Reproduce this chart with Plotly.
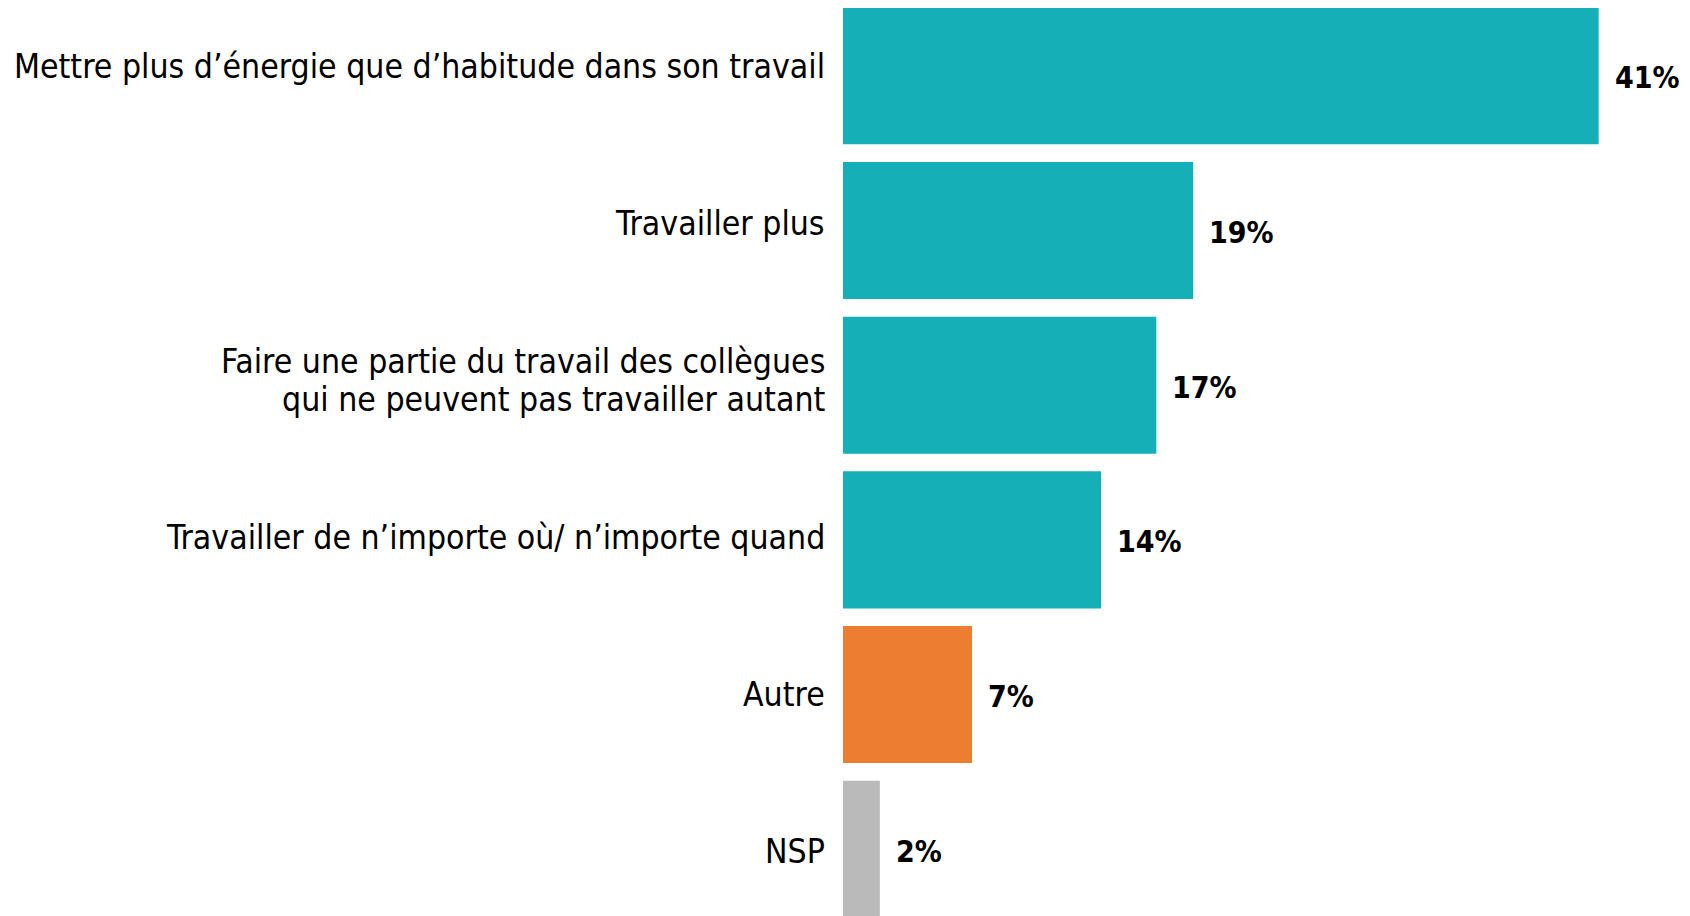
import plotly.graph_objects as go

categories = [
    "Mettre plus d’énergie que d’habitude dans son travail",
    "Travailler plus",
    "Faire une partie du travail des collègues<br>qui ne peuvent pas travailler autant",
    "Travailler de n’importe où/ n’importe quand",
    "Autre",
    "NSP",
]
values = [41, 19, 17, 14, 7, 2]
value_labels = ["41%", "19%", "17%", "14%", "7%", "2%"]
bar_colors = ["#14AFB7", "#14AFB7", "#14AFB7", "#14AFB7", "#ED7D31", "#BABABA"]

positions = list(range(len(categories)))
FONT = "DejaVu Sans Condensed, Liberation Sans Narrow, Liberation Sans"

fig = go.Figure()
fig.add_trace(go.Bar(
    x=values,
    y=positions,
    orientation="h",
    marker=dict(color=bar_colors, line=dict(width=0)),
    width=0.886,
    hoverinfo="skip",
))

# value labels
for v, p, t in zip(values, positions, value_labels):
    fig.add_annotation(
        x=v, y=p, xref="x", yref="y", text=t, showarrow=False,
        xanchor="left", yanchor="middle", xshift=14, yshift=-2,
        font=dict(family=FONT, size=30, color="#000000", weight="bold"),
    )

# category labels (on a second, slightly differently scaled axis)
for p, c in zip(positions, categories):
    lines = c.split("<br>")
    n = len(lines)
    for i, line in enumerate(lines):
        fig.add_annotation(
            x=0, y=p, xref="paper", yref="y2", text=line, showarrow=False,
            xanchor="right", yanchor="middle", xshift=-16,
            yshift=((n - 1) / 2 - i) * 38,
            font=dict(family=FONT, size=33.5, color="#000000"),
        )

fig.update_layout(
    width=1690, height=916,
    margin=dict(l=835, r=0, t=0, b=0),
    paper_bgcolor="white", plot_bgcolor="white",
    showlegend=False,
    font=dict(family=FONT, size=34, color="#000000"),
    xaxis=dict(range=[0, 46.39], visible=False, fixedrange=True),
    yaxis=dict(range=[5.483, -0.438], visible=False, fixedrange=True),
    yaxis2=dict(range=[5.461, -0.3746], visible=False, fixedrange=True,
                overlaying="y", side="left"),
)

fig.write_html("out.html")
